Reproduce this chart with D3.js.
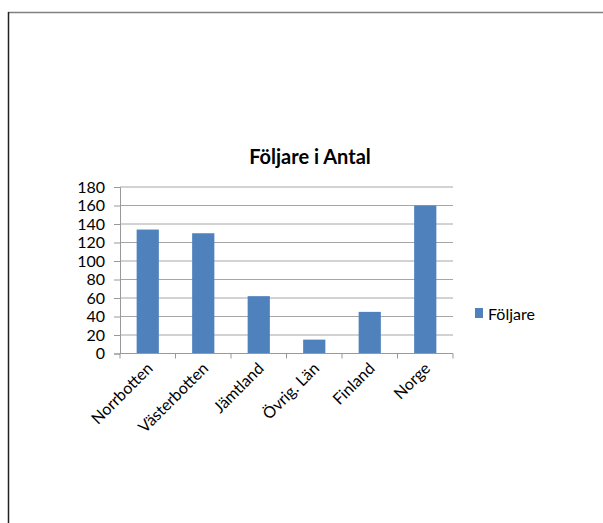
<!DOCTYPE html>
<html><head><meta charset="utf-8">
<script src="https://cdn.jsdelivr.net/npm/d3@7"></script>
<style>body{margin:0;background:#fff}svg{display:block}text{font-family:Lato,"Open Sans",sans-serif}</style>
</head><body>
<script>
const categories = ["Norrbotten","Västerbotten","Jämtland","Övrig. Län","Finland","Norge"];
const values = [134, 130, 62, 15, 45, 160];
const yTicks = [0,20,40,60,80,100,120,140,160,180];
const seriesName = "Följare";
const title = "Följare i Antal";

(function(){
const W = 603, H = 523;
const svg = d3.select("body").append("svg").attr("width", W).attr("height", H);
svg.append("rect").attr("width", W).attr("height", H).attr("fill", "#fff");
// frame
svg.append("line").attr("x1", 8).attr("x2", W).attr("y1", 12.5).attr("y2", 12.5).attr("stroke", "#808080").attr("stroke-width", 1.5);
svg.append("line").attr("x1", 8.5).attr("x2", 8.5).attr("y1", 12).attr("y2", H).attr("stroke", "#222").attr("stroke-width", 1.5);

const pLeft = 120, pRight = 453, pTop = 187, pBottom = 353.5;
const x = d3.scaleBand().domain(categories).range([pLeft, pRight]).paddingInner(0.6).paddingOuter(0.3);
const xb = d3.scaleBand().domain(categories).range([pLeft, pRight]);
const y = d3.scaleLinear().domain([0, 180]).range([pBottom, pTop]);

// gridlines
svg.append("g").selectAll("line").data(yTicks.filter(d => d > 0)).join("line")
  .attr("x1", pLeft).attr("x2", pRight).attr("y1", d => y(d)).attr("y2", d => y(d))
  .attr("stroke", "#a6a6a6").attr("stroke-width", 1);

// bars
svg.append("g").selectAll("rect").data(values).join("rect")
  .attr("x", (d, i) => x(categories[i]))
  .attr("width", x.bandwidth())
  .attr("y", d => y(d))
  .attr("height", d => y(0) - y(d))
  .attr("fill", "#4f81bd");

// y axis
const yAxis = svg.append("g").attr("transform", `translate(${pLeft},0)`)
  .call(d3.axisLeft(y).tickValues(yTicks).tickSize(6).tickPadding(9));
yAxis.select(".domain").attr("stroke", "#999");
yAxis.selectAll(".tick line").attr("stroke", "#999");
yAxis.selectAll("text").attr("font-size", 16).attr("fill", "#000").attr("font-family", "Lato");

// x axis
const xAxisG = svg.append("g").attr("transform", `translate(0,${pBottom})`);
xAxisG.append("line").attr("x1", pLeft).attr("x2", pRight).attr("stroke", "#999");
xAxisG.selectAll("line.t").data(categories.concat(["__end"])).join("line").attr("class", "t")
  .attr("x1", (d, i) => i < categories.length ? xb(d) : pRight)
  .attr("x2", (d, i) => i < categories.length ? xb(d) : pRight)
  .attr("y1", 0).attr("y2", 5).attr("stroke", "#999");
xAxisG.selectAll("text").data(categories).join("text")
  .attr("transform", d => `translate(${xb(d) + xb.bandwidth()/2 + 6},${16}) rotate(-45)`)
  .attr("text-anchor", "end").attr("font-size", 16).attr("fill", "#000")
  .text(d => d);

// title
svg.append("text").attr("x", 310).attr("y", 164).attr("text-anchor", "middle")
  .attr("font-size", 20).attr("font-weight", "bold").attr("fill", "#000").text(title);

// legend
svg.append("rect").attr("x", 475).attr("y", 308).attr("width", 8).attr("height", 10).attr("fill", "#4f81bd");
svg.append("text").attr("x", 488).attr("y", 319.5).attr("font-size", 16).attr("fill", "#000").text(seriesName);
})();
</script>
</body></html>
